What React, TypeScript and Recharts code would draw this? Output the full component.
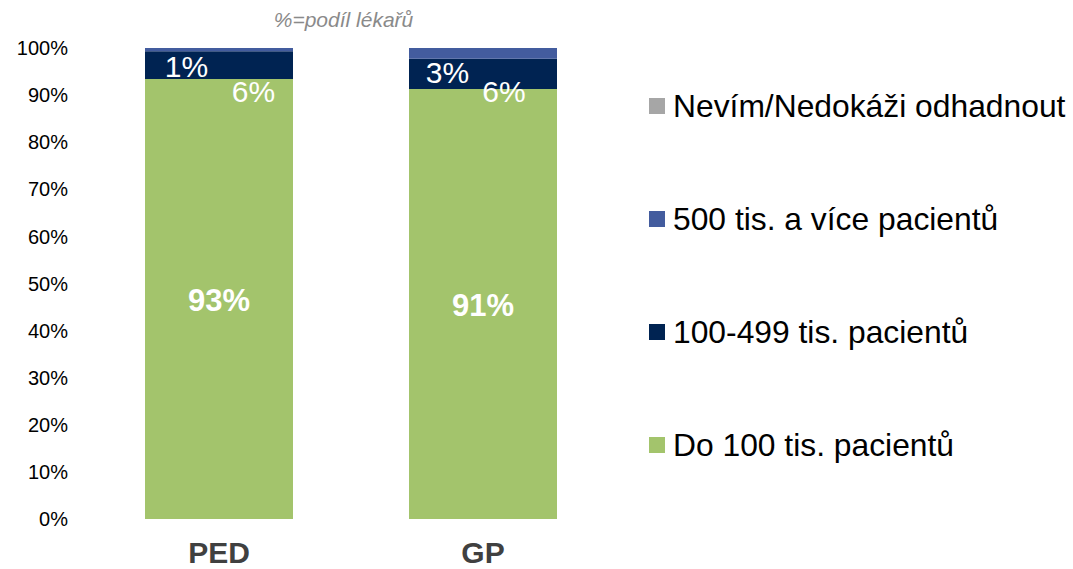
import React from 'react';
import { BarChart, Bar, XAxis, YAxis, Legend, LabelList } from 'recharts';

const FONT = '"Liberation Sans", Arial, Helvetica, sans-serif';

const categories = ['PED', 'GP'];
const do100Values = [93.4, 91.3];
const midValues = [5.9, 6.4];
const over500Values = [0.7, 2.3];
const unknownValues = [0, 0];

const do100Labels = ['93%', '91%'];
const midLabels = ['6%', '6%'];
const over500Labels = ['1%', '3%'];

const yTicks = [0, 10, 20, 30, 40, 50, 60, 70, 80, 90, 100];

const seriesKeys = ['do100', 'mid', 'over500', 'unknown'];
const seriesNames = [
  'Do 100 tis. pacientů',
  '100-499 tis. pacientů',
  '500 tis. a více pacientů',
  'Nevím/Nedokáži odhadnout',
];
const seriesColors = ['#A3C46C', '#002352', '#435C9E', '#A6A6A6'];

const titleText = '%=podíl lékařů';

// label placement nudges (layout only)
const midLabelShift = [
  { dx: 108.5, dy: 23.4 },
  { dx: 95, dy: 13.4 },
];
const over500LabelShift = [
  { dx: 41.5, dy: 26 },
  { dx: 38.5, dy: 24 },
];

const data = categories.map((c, i) => ({
  cat: c,
  do100: do100Values[i],
  mid: midValues[i],
  over500: over500Values[i],
  unknown: unknownValues[i],
  do100Label: do100Labels[i],
  midLabel: midLabels[i],
  over500Label: over500Labels[i],
}));

const getBox = (p: any) => {
  const vb = p.viewBox || p;
  return { x: Number(vb.x), y: Number(vb.y), width: Number(vb.width), height: Number(vb.height) };
};

const GreenLabel = (p: any) => {
  const b = getBox(p);
  return (
    <text
      x={b.x + b.width / 2}
      y={b.y + b.height / 2 + 12}
      textAnchor="middle"
      fill="#fff"
      fontFamily={FONT}
      fontWeight="bold"
      fontSize={31}
    >
      {p.value}
    </text>
  );
};

const MidLabel = (p: any) => {
  const b = getBox(p);
  const s = midLabelShift[p.index] || { dx: b.width / 2, dy: 0 };
  return (
    <text
      x={b.x + s.dx}
      y={b.y + b.height + s.dy}
      textAnchor="middle"
      fill="#fff"
      fontFamily={FONT}
      fontSize={30}
    >
      {p.value}
    </text>
  );
};

const Over500Label = (p: any) => {
  const b = getBox(p);
  const s = over500LabelShift[p.index] || { dx: b.width / 2, dy: 0 };
  return (
    <text
      x={b.x + s.dx}
      y={b.y + b.height + s.dy}
      textAnchor="middle"
      fill="#fff"
      fontFamily={FONT}
      fontSize={30}
    >
      {p.value}
    </text>
  );
};

const renderLegend = () => (
  <div style={{ fontFamily: FONT, fontSize: 31.8, color: '#000' }}>
    {[3, 2, 1, 0].map((i) => (
      <div key={i} style={{ height: 113, display: 'flex', alignItems: 'center' }}>
        <span
          style={{
            width: 16,
            height: 16,
            background: seriesColors[i],
            display: 'inline-block',
            marginRight: 8,
            flex: '0 0 auto',
          }}
        />
        <span style={{ lineHeight: '36px', whiteSpace: 'nowrap' }}>{seriesNames[i]}</span>
      </div>
    ))}
  </div>
);

export default function App() {
  return (
    <div style={{ position: 'absolute', left: 0, top: 0, width: 1073, height: 569, background: '#fff' }}>
      <BarChart
        width={1073}
        height={569}
        data={data}
        margin={{ top: 48, right: 458, bottom: 0, left: 0 }}
      >
        <XAxis
          dataKey="cat"
          axisLine={false}
          tickLine={false}
          tickSize={0}
          tickMargin={23}
          height={50}
          tick={{ fill: '#404040', fontSize: 30, fontWeight: 'bold', fontFamily: FONT }}
        />
        <YAxis
          type="number"
          domain={[0, 100]}
          ticks={yTicks}
          interval={0}
          tickFormatter={(v: number) => `${v}%`}
          axisLine={false}
          tickLine={false}
          tickSize={0}
          tickMargin={19}
          width={87}
          tick={{ fill: '#000', fontSize: 20, fontFamily: FONT }}
        />
        <Legend
          layout="vertical"
          align="center"
          verticalAlign="middle"
          content={renderLegend}
          wrapperStyle={{ left: 649, top: 49.5, width: 'auto', height: 'auto' }}
        />
        {seriesKeys.map((k, i) => (
          <Bar
            key={k}
            dataKey={k}
            name={seriesNames[i]}
            stackId="a"
            fill={seriesColors[i]}
            barSize={148}
            isAnimationActive={false}
          >
            {k === 'do100' && <LabelList dataKey="do100Label" content={GreenLabel} />}
            {k === 'mid' && <LabelList dataKey="midLabel" content={MidLabel} />}
            {k === 'over500' && <LabelList dataKey="over500Label" content={Over500Label} />}
          </Bar>
        ))}
      </BarChart>
      <svg
        width={1073}
        height={569}
        style={{ position: 'absolute', left: 0, top: 0, pointerEvents: 'none' }}
      >
        <text
          x={343.5}
          y={27}
          textAnchor="middle"
          fill="#8a8a8a"
          fontStyle="italic"
          fontFamily={FONT}
          fontSize={21}
        >
          {titleText}
        </text>
      </svg>
    </div>
  );
}
